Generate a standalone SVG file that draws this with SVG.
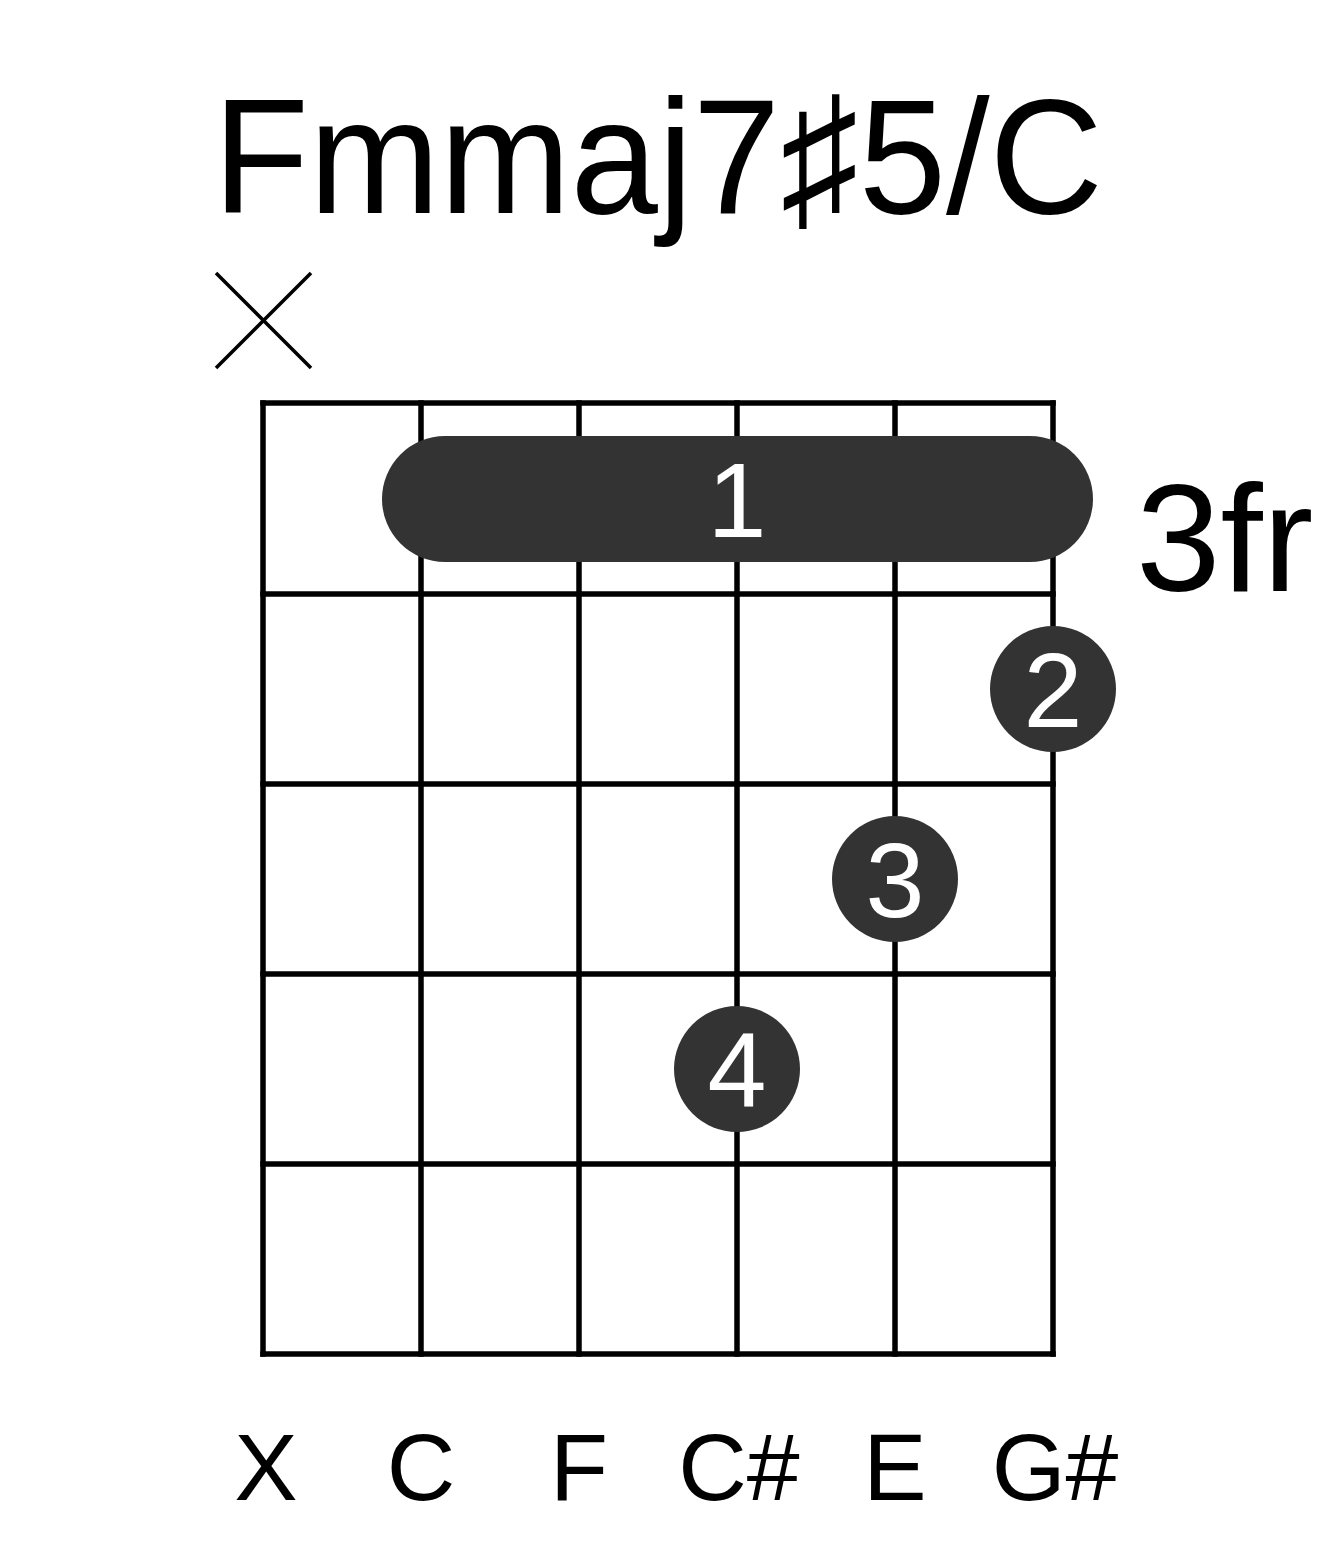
<svg xmlns="http://www.w3.org/2000/svg" width="1317" height="1551" viewBox="0 0 1317 1551">
<style>
.t{font-family:"Liberation Sans",Arial,sans-serif;fill:#000}
.grid line{stroke:#000;stroke-width:5.5;stroke-linecap:square}
.dot{fill:#333}
.fn{font-family:"Liberation Sans",Arial,sans-serif;fill:#fff;font-size:106px;text-anchor:middle}
.lab{font-family:"Liberation Sans",Arial,sans-serif;font-size:95px;text-anchor:middle;fill:#000}
</style>
<rect width="1317" height="1551" fill="#fff"/>
<g id="title"><text class="t" x="213" y="213" font-size="164" textLength="890" lengthAdjust="spacingAndGlyphs">Fmmaj7♯5/C</text></g>
<g id="mute"><line x1="216" y1="273" x2="311" y2="368" stroke="#000" stroke-width="3.5"/><line x1="216" y1="368" x2="311" y2="273" stroke="#000" stroke-width="3.5"/></g>
<g id="grid" class="grid">
<line x1="263" y1="403" x2="1053" y2="403"/>
<line x1="263" y1="594" x2="1053" y2="594"/>
<line x1="263" y1="784" x2="1053" y2="784"/>
<line x1="263" y1="974" x2="1053" y2="974"/>
<line x1="263" y1="1164" x2="1053" y2="1164"/>
<line x1="263" y1="1354" x2="1053" y2="1354"/>
<line x1="263" y1="403" x2="263" y2="1354"/>
<line x1="421" y1="403" x2="421" y2="1354"/>
<line x1="579" y1="403" x2="579" y2="1354"/>
<line x1="737" y1="403" x2="737" y2="1354"/>
<line x1="895" y1="403" x2="895" y2="1354"/>
<line x1="1053" y1="403" x2="1053" y2="1354"/>
</g>
<g id="barre"><rect class="dot" x="382" y="436" width="711" height="126" rx="63"/><text class="fn" x="737" y="537">1</text></g>
<g id="fret-label"><text class="t" x="1136" y="591" font-size="152">3fr</text></g>
<g id="f2"><circle class="dot" cx="1053" cy="689" r="63"/><text class="fn" x="1053" y="727">2</text></g>
<g id="f3"><circle class="dot" cx="895" cy="879" r="63"/><text class="fn" x="895" y="917">3</text></g>
<g id="f4"><circle class="dot" cx="737" cy="1069" r="63"/><text class="fn" x="737" y="1107">4</text></g>
<g id="labels">
<text class="lab" x="266" y="1500">X</text>
<text class="lab" x="421" y="1500">C</text>
<text class="lab" x="579" y="1500">F</text>
<text class="lab" x="739" y="1500">C#</text>
<text class="lab" x="895" y="1500">E</text>
<text class="lab" x="1055" y="1500">G#</text>
</g>
</svg>
